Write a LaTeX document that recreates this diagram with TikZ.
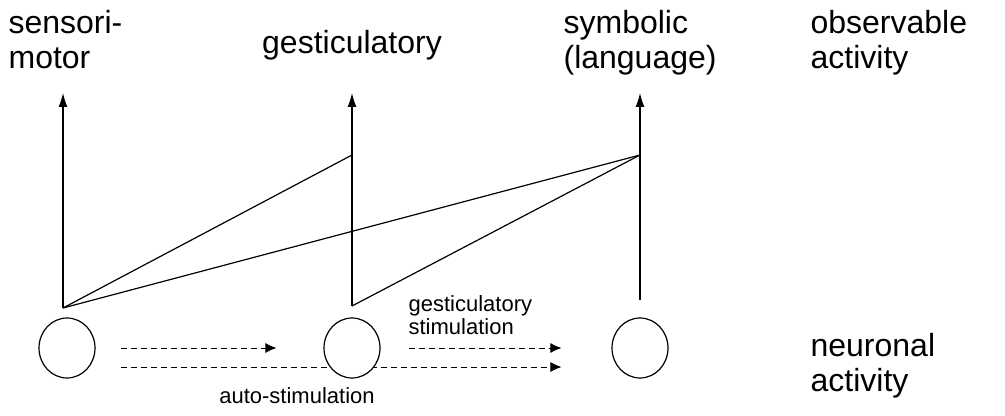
\documentclass[tikz,border=0pt]{standalone}
\usepackage{fontspec}
\setmainfont{Liberation Sans}
\usetikzlibrary{arrows.meta,positioning,shapes.geometric,backgrounds}

\begin{document}
\begin{tikzpicture}[x=0.5pt, y=-0.5pt, line width=0.6pt,
  big/.style={font=\fontsize{16}{17.5}\selectfont, align=left, inner sep=0pt},
  small/.style={font=\fontsize{11}{11.5}\selectfont, align=left, inner sep=0pt},
  cell/.style={ellipse, draw, fill=white, minimum width=28pt, minimum height=30pt, inner sep=0pt},
  up/.style={-{Latex[length=7pt,width=4.5pt]}},
  stim/.style={dash pattern=on 3pt off 2pt, -{Latex[length=5.5pt,width=5pt]}}]
\useasboundingbox (0,0) rectangle (1005,416);
%observable activity
\node[big, anchor=north west] (sm) at (8,10) {sensori-\\motor};
\node[big] (ge) at (352,45) {gesticulatory};
\node[big, anchor=north west] (sy) at (563,10) {symbolic\\(language)};
\node[big, anchor=north west] (ob) at (810,10) {observable\\activity};
%neuronal activity
\node[cell] (n1) at (67,348) {};
\node[cell] (n2) at (352,348) {};
\node[cell] (n3) at (640,348) {};
\node[big, anchor=north west] (ne) at (810,333) {neuronal\\activity};
%connections
\coordinate (t1) at (63,93);
\coordinate (t2) at (352,93);
\coordinate (t3) at (640,93);
\coordinate (b1) at (63,308);
\coordinate (b2) at (352,306);
\coordinate (b3) at (640,300);
\coordinate (j2) at (352,155);
\coordinate (j3) at (640,155);
\draw[up] (b1) -- (t1);
\draw[up] (b2) -- (t2);
\draw[up] (b3) -- (t3);
\draw (b1) -- (j2);
\draw (b1) -- (j3);
\draw (b2) -- (j3);
%stimulation
\begin{scope}[on background layer]
\draw[stim, shorten <=12.5pt, shorten >=23.5pt] (n1.east) -- (n2.west);
\draw[stim, shorten <=14pt, shorten >=25pt] (n2.east) -- (n3.west);
\draw[stim, shorten <=12.5pt, shorten >=25pt] ([yshift=-9.5pt]n1.east) -- ([yshift=-9.5pt]n3.west);
\end{scope}
\node[small, anchor=north west] (gs) at (408,295) {gesticulatory\\stimulation};
\node[small] (as) at (297,396) {auto-stimulation};
\end{tikzpicture}
\end{document}
